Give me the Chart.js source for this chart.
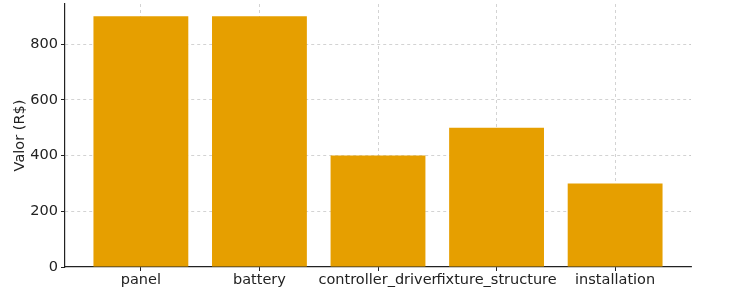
<!DOCTYPE html>
<html>
<head>
<meta charset="utf-8">
<script src="https://cdn.jsdelivr.net/npm/chart.js@4/dist/chart.umd.min.js"></script>
<style>
  html, body { margin: 0; padding: 0; background: #fff; }
  #wrap { width: 755px; height: 290px; }
</style>
</head>
<body>
<div id="wrap"><canvas id="chart"></canvas></div>
<script>
const categories = ['panel', 'battery', 'controller_driver', 'fixture_structure', 'installation'];
const values = [900, 900, 400, 500, 300];
const yTicks = [0, 200, 400, 600, 800];

const barColor = '#E69F00';
const gridColor = 'rgba(176, 176, 176, 0.7)';
const font = { family: 'DejaVu Sans', size: 14.5 };

const ctx = document.getElementById('chart').getContext('2d');
new Chart(ctx, {
  type: 'bar',
  data: {
    datasets: [{
      data: values.map((v, i) => ({ x: i, y: v })),
      backgroundColor: barColor,
      borderWidth: 0,
      barPercentage: 1,
      categoryPercentage: 0.8,
    }],
  },
  options: {
    responsive: true,
    maintainAspectRatio: false,
    animation: false,
    layout: { padding: { top: 4, right: 64, left: 0, bottom: 0 } },
    plugins: { legend: { display: false }, tooltip: { enabled: false } },
    scales: {
      x: {
        type: 'linear',
        min: -0.64,
        max: 4.64,
        offset: false,
        z: 1,
        afterBuildTicks: (scale) => {
          scale.ticks = categories.map((c, i) => ({ value: i }));
        },
        afterFit: (scale) => {
          scale.height = 23;
          scale.paddingLeft = 0;
          scale.paddingRight = 0;
        },
        ticks: {
          autoSkip: false,
          maxRotation: 0,
          color: '#222',
          font: font,
          padding: 1,
          callback: (v) => categories[v],
        },
        grid: {
          offset: false,
          color: gridColor,
          lineWidth: 0.8,
          tickColor: '#222',
          tickLength: 4,
          tickBorderDash: [],
          tickWidth: 1,
        },
        border: { color: '#222', width: 1.2, dash: [3, 3] },
      },
      y: {
        min: 0,
        max: 944,
        z: 1,
        afterBuildTicks: (scale) => {
          scale.ticks = yTicks.map((v) => ({ value: v }));
        },
        afterFit: (scale) => {
          scale.width = 65;
          scale.paddingTop = 0;
          scale.paddingBottom = 0;
        },
        ticks: {
          color: '#222',
          font: font,
          padding: 3,
        },
        grid: {
          color: (c) => (c.tick && c.tick.value === 0 ? 'rgba(0,0,0,0)' : gridColor),
          lineWidth: 0.8,
          tickColor: '#222',
          tickLength: 4,
          tickBorderDash: [],
          tickWidth: 1,
        },
        border: { color: '#222', width: 1.2, dash: [3, 3] },
        title: {
          display: true,
          text: 'Valor (R$)',
          color: '#222',
          font: font,
          padding: { top: 12, bottom: 4 },
        },
      },
    },
  },
});
</script>
</body>
</html>
